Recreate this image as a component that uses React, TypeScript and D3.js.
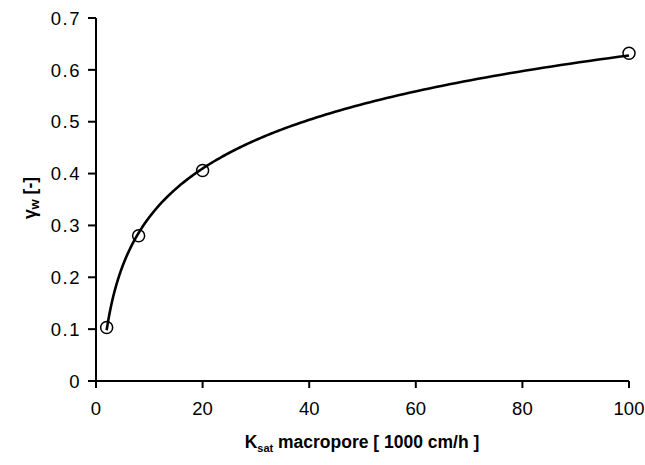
import React from "react";
import * as d3 from "d3";

const kSat = [2, 8, 20, 100];
const gammaW = [0.103, 0.28, 0.406, 0.632];
const xTicks = [0, 20, 40, 60, 80, 100];
const yTicks = [0, 0.1, 0.2, 0.3, 0.4, 0.5, 0.6, 0.7];

const W = 645, H = 465;
const FONT = "'Liberation Sans', Arial, sans-serif";

export default function App() {
  const x = d3.scaleLinear().domain([0, 100]).range([96, 629]);
  const y = d3.scaleLinear().domain([0, 0.7]).range([381, 18]);

  // logarithmic trendline fitted to the points (least squares on ln x)
  const lx = kSat.map(Math.log);
  const mx = d3.mean(lx)!, my = d3.mean(gammaW)!;
  const sxy = d3.sum(lx.map((v, i) => (v - mx) * (gammaW[i] - my)));
  const sxx = d3.sum(lx.map((v) => (v - mx) ** 2));
  const a = sxy / sxx, b = my - a * mx;
  const curveX = d3.range(0, 201).map((i) => kSat[0] * Math.pow(kSat[kSat.length - 1] / kSat[0], i / 200));
  const line = d3.line<number>().x((d) => x(d)).y((d) => y(a * Math.log(d) + b));

  return (
    <svg width={W} height={H} style={{ position: "absolute", left: 0, top: 0, background: "#fff" }}>
      <rect width={W} height={H} fill="#fff" />
      {/* axes */}
      <line x1={x(0)} x2={x(0)} y1={y(0.7)} y2={y(0)} stroke="#000" strokeWidth={2} />
      <line x1={x(0)} x2={x(100)} y1={y(0)} y2={y(0)} stroke="#000" strokeWidth={2} />
      {yTicks.map((t) => (
        <g key={"y" + t}>
          <line x1={x(0) - 8} x2={x(0)} y1={y(t)} y2={y(t)} stroke="#000" strokeWidth={2} />
          <text x={x(0) - 15} y={y(t)} dy="0.36em" textAnchor="end" fontFamily={FONT} fontSize={18.5} letterSpacing={1.5} fill="#000">
            {t === 0 ? "0" : t.toFixed(1)}
          </text>
        </g>
      ))}
      {xTicks.map((t) => (
        <g key={"x" + t}>
          <line x1={x(t)} x2={x(t)} y1={y(0)} y2={y(0) + 7} stroke="#000" strokeWidth={2} />
          <text x={x(t)} y={y(0) + 34} textAnchor="middle" fontFamily={FONT} fontSize={18.5} fill="#000">
            {t}
          </text>
        </g>
      ))}
      {/* trendline */}
      <path d={line(curveX)!} fill="none" stroke="#000" strokeWidth={2.6} />
      {/* markers */}
      {kSat.map((k, i) => (
        <circle key={k} cx={x(k)} cy={y(gammaW[i])} r={6} fill="none" stroke="#000" strokeWidth={1.5} />
      ))}
      {/* titles */}
      <text x={362} y={448} textAnchor="middle" fontFamily={FONT} fontSize={17.5} fontWeight="bold" fill="#000">
        K<tspan fontSize={11} dy={4}>sat</tspan><tspan dy={-4}> macropore [ 1000 cm/h ]</tspan>
      </text>
      <text transform="translate(36,198) rotate(-90)" textAnchor="middle" fontFamily={FONT} fontSize={17.5} fontWeight="bold" fill="#000">
        γ<tspan fontSize={13} dy={3}>w</tspan><tspan dy={-3}> [-]</tspan>
      </text>
    </svg>
  );
}
